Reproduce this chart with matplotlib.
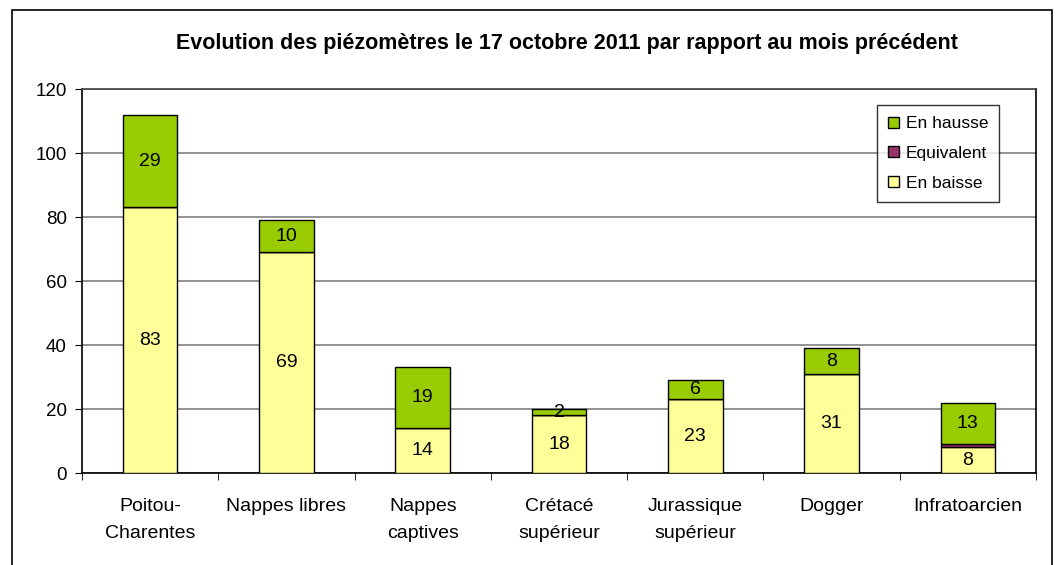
"""
Stacked bar chart: evolution of piezometers on 17 October 2011.

Output: out.png
"""

import matplotlib.pyplot as plt
import numpy as np
from matplotlib.patches import Rectangle

plt.rcParams["font.family"] = ["Liberation Sans", "DejaVu Sans"]

categories = [
    "Poitou-\nCharentes",
    "Nappes libres",
    "Nappes\ncaptives",
    "Crétacé\nsupérieur",
    "Jurassique\nsupérieur",
    "Dogger",
    "Infratoarcien",
]
en_baisse = [83, 69, 14, 18, 23, 31, 8]
equivalent = [0, 0, 0, 0, 0, 0, 1]
en_hausse = [29, 10, 19, 2, 6, 8, 13]

title = "Evolution des piézomètres le 17 octobre 2011 par rapport au mois précédent"
y_ticks = [0, 20, 40, 60, 80, 100, 120]

GREEN = "#99CC00"
PURPLE = "#993366"
YELLOW = "#FFFF99"


def main() -> None:
    fig = plt.figure(figsize=(10.58, 5.65), dpi=100)
    ax = fig.add_axes([82 / 1058, 1 - 473 / 565, (1036 - 82) / 1058, (473 - 89) / 565])

    # outer chart frame (open at the bottom, as in the source)
    fig.patches.append(
        Rectangle((12 / 1058, -0.1), (1052 - 12) / 1058, 1.1 - 10 / 565,
                  transform=fig.transFigure, fill=False, edgecolor="black", lw=1.2)
    )

    x = np.arange(len(categories))
    baisse = np.array(en_baisse)
    equiv = np.array(equivalent)
    hausse = np.array(en_hausse)
    width = 0.40

    b1 = ax.bar(x, baisse, width, color=YELLOW, edgecolor="black", lw=1, label="En baisse", zorder=3)
    b2 = ax.bar(x, equiv, width, bottom=baisse, color=PURPLE, edgecolor="black", lw=1,
                label="Equivalent", zorder=3)
    b3 = ax.bar(x, hausse, width, bottom=baisse + equiv, color=GREEN, edgecolor="black", lw=1,
                label="En hausse", zorder=3)

    for i in range(len(categories)):
        ax.text(x[i], baisse[i] / 2, str(baisse[i]), ha="center", va="center", fontsize=14, zorder=4)
        ax.text(x[i], baisse[i] + equiv[i] + hausse[i] / 2, str(hausse[i]),
                ha="center", va="center", fontsize=14, zorder=4)

    ax.set_xlim(-0.5, len(categories) - 0.5)
    ax.set_ylim(0, 120)
    ax.set_yticks(y_ticks)
    ax.yaxis.grid(True, color="#808080", lw=1.2, zorder=0)
    ax.tick_params(axis="y", direction="out", length=5, labelsize=13.5, pad=6)

    ax.set_xticks(x)
    ax.set_xticklabels(categories, fontsize=14, linespacing=1.75)
    ax.set_xticks(np.arange(len(categories) + 1) - 0.5, minor=True)
    ax.tick_params(axis="x", which="major", length=0, pad=18)
    ax.tick_params(axis="x", which="minor", direction="out", length=5)

    for side in ["left", "bottom", "right", "top"]:
        ax.spines[side].set_color("black")
        ax.spines[side].set_linewidth(1.2)
    ax.spines["top"].set_color("#404040")

    fig.text(567 / 1058, 1 - 43 / 565, title, ha="center", va="center", fontsize=15.5, fontweight="bold")

    leg = ax.legend(
        [b3, b2, b1], ["En hausse", "Equivalent", "En baisse"],
        loc="upper left", bbox_to_anchor=((877 - 82) / 954, (473 - 105) / 384),
        fontsize=12.5, frameon=True, fancybox=False, edgecolor="black",
        handlelength=0.6, handleheight=0.6, handletextpad=0.4,
        labelspacing=0.85, borderpad=0.65, borderaxespad=0,
    )
    leg.get_frame().set_linewidth(1.0)

    fig.savefig("out.png", dpi=100)
    plt.close(fig)


if __name__ == "__main__":
    main()
